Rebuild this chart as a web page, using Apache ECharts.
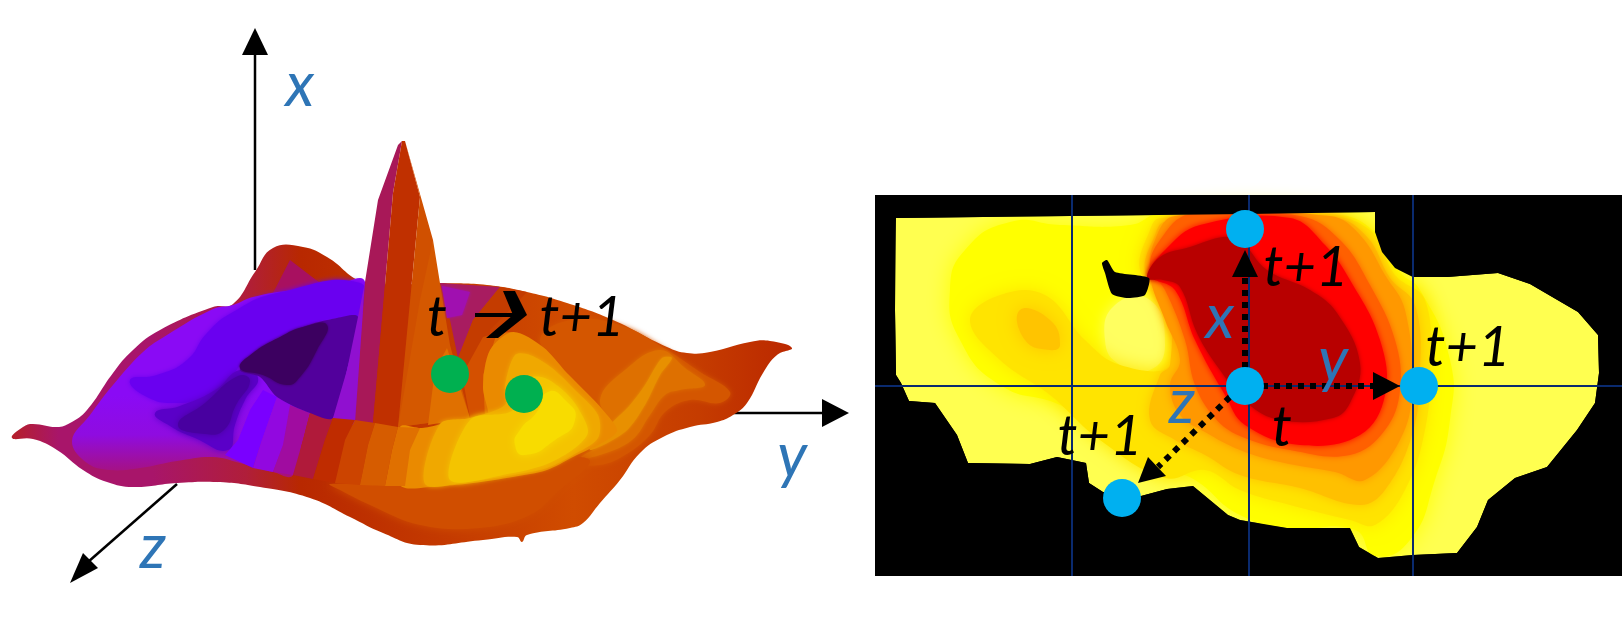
<!DOCTYPE html>
<html>
<head>
<meta charset="utf-8">
<style>
html,body{margin:0;padding:0;background:#fff}
#chart{width:1623px;height:622px}
</style>
<script src="https://cdn.jsdelivr.net/npm/echarts@6/dist/echarts.min.js"></script>
</head>
<body>
<div id="chart"></div>
<script>
// everything is read off the picture, in picture units: [x, y]
// left: the surface, as outlines listed from back to front
const silhouette = [[233,304],[255,272],[273,248],[303,247],[327,257],[365,282],[440,283],[487,285],[527,292],[567,303],[613,320],[667,347],[687,353],[710,352],[750,342],[770,341],[792,348],[777,355],[763,373],[747,403],[733,415],[717,422],[690,427],[663,437],[640,453],[620,480],[600,503],[583,523],[570,528],[527,535],[522,542],[517,537],[483,540],[420,545],[383,533],[350,517],[310,498],[260,487],[217,482],[177,483],[133,487],[107,482],[83,470],[57,450],[33,439],[12,438],[23,427],[33,424],[57,427],[70,423],[87,410],[113,373],[133,350],[160,330],[213,307]];
const ridgeFacet = [[273,293],[290,260],[320,283],[347,283]];
const violetBowl = [[72,441],[90,415],[113,385],[143,352],[167,335],[213,309],[233,305],[253,297],[293,290],[330,287],[365,282],[358,422],[333,418],[310,413],[293,475],[273,472],[240,463],[213,457],[177,461],[140,468],[110,470],[87,463]];
const violetUpper = [[130,380],[157,375],[187,360],[207,333],[233,312],[277,293],[360,283],[358,317],[337,318],[303,327],[253,353],[227,380],[203,397],[177,403],[147,397]];
const troughOuter = [[155,413],[180,406],[215,390],[240,370],[258,378],[245,400],[235,425],[228,450],[195,438],[170,426]];
const troughInner = [[178,425],[205,403],[238,376],[250,381],[236,405],[224,430],[205,434]];
const stripViolet = [[225,455],[253,468],[262,440],[277,397],[263,390],[250,410],[238,440]];
const stripPurple = [[253,468],[273,472],[283,445],[290,405],[277,397],[262,440]];
const stripMagenta = [[273,472],[293,475],[303,440],[310,413],[290,405],[283,445]];
const stripCrimson = [[293,475],[313,479],[325,440],[333,418],[310,413],[303,440]];
const pitWall = [[303,327],[337,318],[358,317],[347,370],[333,418],[310,413],[277,397],[260,377],[240,370],[253,353]];
const pitCore = [[303,327],[327,325],[317,350],[300,377],[287,385],[263,375],[240,368],[253,353],[280,337]];
const spikeSliver = [[365,282],[358,317],[347,370],[333,418],[355,422],[362,320]];
const spikeMagenta = [[398,145],[378,200],[365,282],[355,422],[373,423],[393,193],[402,141]];
const spikeRed = [[402,141],[393,193],[373,423],[398,427],[420,197],[405,141]];
const spikeOrange = [[405,141],[420,197],[398,427],[428,423],[433,240]];
const spikeFoot = [[433,240],[450,345],[470,418],[428,423],[398,427],[420,300]];
const spikeFootLight = [[447,348],[470,418],[428,425],[435,370]];
const backMagenta = [[440,283],[500,287],[473,320],[458,358],[450,320]];
const backPurple = [[442,286],[470,292],[462,315],[447,318]];
const backRed = [[458,358],[473,320],[500,287],[527,292],[490,330],[483,387],[488,419],[470,418]];
const backOrange = [[470,418],[462,375],[483,337],[497,333],[488,418]];
const backLight = [[485,418],[483,375],[497,333],[513,332],[495,350],[495,412]];
const bandA = [[540,340],[570,320],[620,325],[667,350],[700,372],[730,392],[720,403],[690,400],[665,412],[650,435],[625,455],[600,465],[575,462],[605,440],[617,430],[603,410],[587,393],[567,373]];
const bandB = [[600,400],[625,370],[660,350],[685,368],[705,385],[680,390],[665,395],[650,415],[632,440],[600,455],[580,458],[610,440],[617,430]];
const bandC = [[590,450],[625,432],[645,405],[660,375],[672,358],[662,358],[645,385],[630,405],[610,425]];
const skirtLight = [[330,484],[400,486],[440,486],[513,477],[573,457],[590,462],[560,490],[530,515],[480,528],[420,525],[370,505],[340,490]];
const humpOuter = [[400,427],[422,428],[470,418],[488,418],[483,387],[490,350],[513,332],[543,347],[567,373],[587,393],[603,410],[617,430],[607,440],[573,457],[547,470],[513,477],[473,483],[440,486],[400,485]];
const humpMid = [[425,484],[473,481],[513,475],[547,468],[573,455],[598,438],[598,415],[575,390],[552,368],[530,355],[515,355],[505,385],[505,405],[470,418],[440,424]];
const humpInner = [[450,480],[513,473],[547,464],[575,448],[588,432],[578,408],[565,392],[545,378],[530,378],[525,395],[510,412],[470,420]];
const humpCore = [[520,430],[537,412],[548,392],[565,400],[575,420],[555,440],[525,455],[515,445]];
const frontRed = [[313,479],[335,483],[345,440],[355,420],[333,418],[325,440]];
const frontDeep = [[335,483],[360,485],[368,445],[375,423],[355,420],[345,440]];
const frontOrange = [[360,485],[385,486],[392,450],[398,427],[375,423],[368,445]];
const frontLight = [[385,486],[405,486],[410,450],[420,428],[398,427],[392,450]];

// outline, colour, blur, rounding
const surfaceLayers = [
  [ridgeFacet,'#a81060',0,0],[violetBowl,'violet',0,0.4],[violetUpper,'#6a00f0',5,0.5],
  [troughOuter,'#5a00c8',7,0.5],[troughInner,'#4800a0',7,0.5],
  [stripViolet,'#7a00ff',0,0],[stripPurple,'#9208e0',0,0],[stripMagenta,'#a00ca0',0,0],[stripCrimson,'#b01a3a',0,0],
  [pitWall,'#52009c',0,0.3],[pitCore,'#3c0060',3,0.5],
  [spikeSliver,'#9010d0',0,0],[spikeMagenta,'#a81858',0,0],[spikeRed,'#c03000',0,0],[spikeOrange,'#d05000',0,0],
  [spikeFoot,'#d45800',0,0],[spikeFootLight,'#e07000',0,0],
  [backMagenta,'#a81c60',0,0],[backPurple,'#a010b0',3,0],[backRed,'#c43c00',0,0],[backOrange,'#d45000',0,0],[backLight,'#e07000',0,0],
  [bandA,'#d45600',5,0.4],[bandB,'#de7000',4,0.4],[bandC,'#e89000',3,0.3],[skirtLight,'#d04e00',8,0.4],
  [humpOuter,'#ea8a00',0,0.3],[humpMid,'#f0a800',4,0.3],[humpInner,'#f4c400',6,0.3],[humpCore,'#f8dc00',10,0.6],
  [frontRed,'#bf2c00',0,0],[frontDeep,'#cc4400',0,0],[frontOrange,'#d65c00',0,0],[frontLight,'#e07000',0,0]
];

// right: the map, filled contours from the outside in
const panelBox = [[875,195],[1622,195],[1622,576],[875,576]];
const mapOutline = [[896,218],[1070,216],[1248,214],[1375,212],[1375,232],[1382,252],[1395,268],[1413,277],[1447,277],[1498,273],[1530,284],[1578,312],[1598,335],[1599,373],[1595,403],[1577,430],[1547,467],[1515,478],[1488,500],[1477,527],[1457,553],[1413,555],[1378,558],[1359,547],[1350,528],[1287,528],[1240,520],[1228,515],[1193,486],[1167,489],[1141,496],[1103,492],[1089,483],[1086,463],[1057,457],[1030,464],[968,463],[957,435],[935,403],[909,401],[901,383],[896,375],[895,310]];
const mapHole = [[1102,263],[1107,260],[1115,272],[1149,278],[1145,295],[1128,298],[1112,294],[1105,273]];
const levelYellow = [[965,250],[1010,222],[1060,225],[1130,225],[1160,214],[1330,214],[1375,232],[1400,272],[1420,290],[1450,360],[1450,420],[1435,480],[1410,540],[1375,556],[1355,530],[1290,528],[1240,515],[1195,480],[1170,470],[1120,440],[1060,405],[1000,385],[960,340],[950,290]];
const levelPale = [[1115,305],[1150,300],[1165,345],[1150,370],[1120,365],[1105,340]];
const levelGold = [[1160,218],[1330,216],[1372,232],[1395,275],[1425,300],[1430,370],[1425,430],[1405,490],[1375,525],[1350,520],[1290,505],[1240,490],[1205,470],[1165,478],[1100,440],[1050,395],[1000,360],[970,320],[1000,295],[1045,295],[1085,340],[1120,365],[1170,365],[1165,300],[1140,270],[1150,230]];
const levelBlob = [[1020,310],[1050,320],[1060,345],[1050,350],[1025,340]];
const levelAmber = [[1165,222],[1335,218],[1368,238],[1390,278],[1415,305],[1420,375],[1412,435],[1385,490],[1360,505],[1300,488],[1240,475],[1205,455],[1175,440],[1150,420],[1160,375],[1170,365],[1168,310],[1145,272],[1155,235]];
const levelOrange = [[1175,216],[1330,216],[1360,235],[1385,275],[1405,310],[1412,390],[1400,440],[1365,480],[1335,472],[1280,462],[1240,450],[1205,432],[1180,415],[1170,385],[1180,360],[1165,320],[1150,275],[1155,240]];
const levelDeep = [[1190,214],[1300,216],[1340,240],[1370,285],[1395,340],[1400,390],[1385,430],[1350,455],[1290,450],[1240,436],[1215,418],[1195,385],[1185,340],[1165,290],[1150,268],[1160,240]];
const levelRed = [[1200,225],[1290,218],[1325,245],[1350,280],[1380,340],[1385,395],[1360,435],[1300,445],[1245,425],[1225,395],[1195,340],[1175,290],[1150,275],[1165,250]];
const levelDark = [[1147,278],[1160,257],[1190,247],[1223,237],[1240,240],[1267,270],[1310,290],[1337,313],[1360,363],[1350,403],[1333,418],[1280,420],[1247,403],[1220,370],[1197,333],[1180,287],[1163,280]];

const mapLayers = [
  [mapOutline,'#ffff50',0,0],[levelYellow,'#ffff00',22,0.5],[levelPale,'#ffff60',14,0.5],
  [levelGold,'#ffe400',18,0.4],[levelBlob,'#ffc400',18,0.5],[levelAmber,'#ffc000',12,0.4],[levelOrange,'#ff9800',8,0.4],
  [levelDeep,'#ff6000',6,0.4],[levelRed,'#ff0000',6,0.4],[levelDark,'#b80000',4,0.4]
];

const gridLinesV = [1072, 1249, 1413];
const gridLineH = 386;

// axes and arrows
const axisLines = [[[255,270],[255,50]],[[733,413],[825,413]],[[177,484],[88,562]]];
const axisHeads = [[[255,28],[242,55],[268,55]],[[849,413],[822,399],[822,427]],[[70,583],[83,553],[98,568]]];
const dottedArrows = [[[1245,368],[1245,277]],[[1262,386],[1374,386]],[[1230,397],[1158,467]]];
const dottedHeads = [[[1245,250],[1232,277],[1258,277]],[[1400,386],[1373,372],[1373,400]],[[1138,483],[1148,457],[1166,476]]];
const stepArrowLine = [[475,315],[522,315]];
const stepArrowHead = [[503,291],[515,291],[527,315],[498,338],[486,338],[513,315]];

const greenDots = [[450,374],[524,394]];
const blueDots = [[1122,498],[1245,229],[1245,386],[1419,386]];

const blackLabels = [['t',437,318],['t+1',582,318],['t+1',1306,268],['t+1',1468,348],['t+1',1100,437],['t',1282,428]];
const blueLabels = [['x',300,86],['y',792,457],['z',153,548],['x',1220,318],['z',1182,403],['y',1333,361]];

const G = echarts.graphic;
const surfaceFill = new G.LinearGradient(12,0,792,0,[
  {offset:0,color:'#b5202a'},{offset:0.06,color:'#a8156a'},{offset:0.18,color:'#a8156a'},
  {offset:0.3,color:'#b01e3a'},{offset:0.37,color:'#b82800'},{offset:0.56,color:'#c43a00'},
  {offset:0.72,color:'#d04c00'},{offset:0.88,color:'#c53c00'},{offset:1,color:'#bb2800'}],true);
const violetFill = new G.LinearGradient(0,395,0,475,[
  {offset:0,color:'#8a0af5'},{offset:0.5,color:'#8f0ce0'},{offset:1,color:'#a8127a'}],true);

// keyhole outline: black box with the map cut out of it
function maskPoints() {
  return panelBox.concat([[875,218]], mapOutline.slice().reverse(), [[896,218],[875,218]]);
}

function polySeries(list, z) {
  return { type: 'custom', coordinateSystem: 'cartesian2d', silent: true, z: z, clip: false,
    data: list.map((l, i) => i),
    renderItem: (params, api) => {
      const l = list[params.dataIndex];
      const style = { fill: l[1] === 'violet' ? violetFill : l[1] };
      if (l[2]) { style.shadowBlur = l[2]; style.shadowColor = l[1]; }
      return { type: 'polygon', shape: { points: l[0].map(p => api.coord(p)), smooth: l[3] || 0 }, style: style };
    } };
}
function lineSeries(list, color, width, dash, z) {
  return { type: 'custom', coordinateSystem: 'cartesian2d', silent: true, z: z, clip: false,
    data: list.map((l, i) => i),
    renderItem: (params, api) => ({ type: 'polyline',
      shape: { points: list[params.dataIndex].map(p => api.coord(p)) },
      style: { stroke: color, lineWidth: width, lineDash: dash || null, fill: null } }) };
}
function labelSeries(list, color, size, z) {
  return { type: 'custom', coordinateSystem: 'cartesian2d', silent: true, z: z, clip: false,
    data: list.map((l, i) => i),
    renderItem: (params, api) => {
      const l = list[params.dataIndex], c = api.coord([l[1], l[2]]);
      return { type: 'text', x: c[0], y: c[1], style: { text: l[0], fill: color,
        font: 'italic ' + size + 'px Lato', align: 'center', verticalAlign: 'middle' } };
    } };
}

const chart = echarts.init(document.getElementById('chart'));
chart.setOption({
  animation: false,
  backgroundColor: '#fff',
  grid: { left: 0, right: 0, top: 0, bottom: 0 },
  xAxis: { type: 'value', min: 0, max: 1623, show: false },
  yAxis: { type: 'value', min: 0, max: 622, inverse: true, show: false },
  series: [
    lineSeries(axisLines, '#000', 2.5, null, 1),
    polySeries(axisHeads.map(a => [a, '#000']), 2),
    polySeries([[silhouette, surfaceFill, 0, 0.45]], 3),
    polySeries(surfaceLayers, 4),
    { type: 'scatter', data: greenDots, symbolSize: 38, itemStyle: { color: '#00b050', opacity: 1 }, silent: true, z: 5 },
    polySeries([[panelBox, '#000']], 6),
    polySeries(mapLayers, 7),
    polySeries([[maskPoints(), '#000'], [mapHole, '#000', 0, 0.2]], 8),
    lineSeries(gridLinesV.map(x => [[x,195],[x,576]]).concat([[[875,gridLineH],[1622,gridLineH]]]), '#0a2a6e', 2, null, 9),
    lineSeries(dottedArrows, '#000', 6, [6,6], 10),
    polySeries(dottedHeads.map(a => [a, '#000']), 11),
    { type: 'scatter', data: blueDots, symbolSize: 38, itemStyle: { color: '#00b0f0', opacity: 1 }, silent: true, z: 12 },
    lineSeries([stepArrowLine], '#000', 4, null, 13),
    polySeries([[stepArrowHead, '#000']], 13),
    labelSeries(blackLabels, '#000', 56, 14),
    labelSeries(blueLabels, '#2e75b6', 62, 14)
  ]
});
</script>
</body>
</html>
